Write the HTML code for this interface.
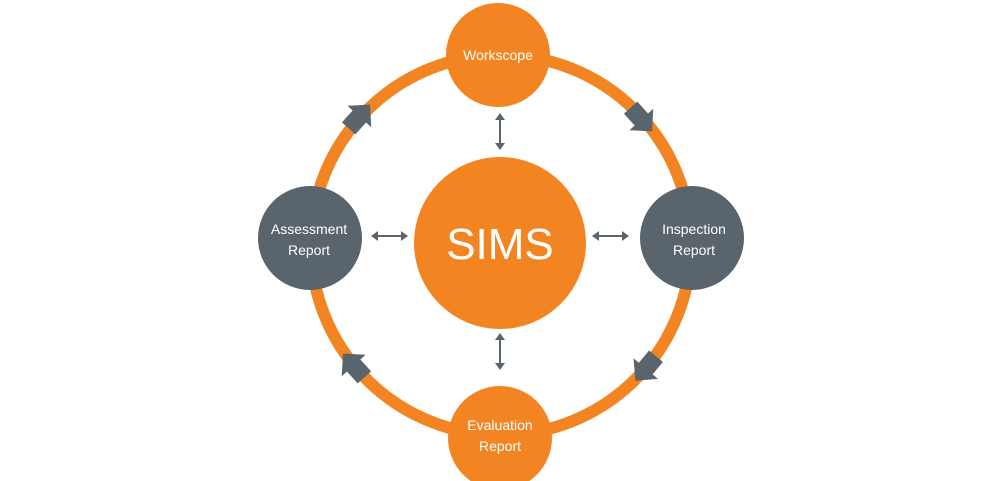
<!DOCTYPE html>
<html><head><meta charset="utf-8"><style>
html,body{margin:0;padding:0;background:#fff;}
svg{display:block;}
text{font-family:"Liberation Sans",sans-serif;fill:#fff;}
</style></head><body>
<svg width="1000" height="481" viewBox="0 0 1000 481">
<defs>
<g id="arr"><polygon points="-14,-9 2,-9 2,-16 18,0 2,16 2,9 -14,9" fill="#5a646d"/></g>
<g id="dv"><line x1="0" y1="4" x2="0" y2="33" stroke="#5a646d" stroke-width="2"/><polygon points="0,0 -5,7 5,7" fill="#5a646d"/><polygon points="0,37 -5,30 5,30" fill="#5a646d"/></g>
</defs>
<circle cx="501" cy="245" r="190" fill="none" stroke="#f28421" stroke-width="12"/>
<g transform="translate(640,118) rotate(48)"><use href="#arr"/></g>
<g transform="translate(647,367) rotate(130)"><use href="#arr"/></g>
<g transform="translate(355,367) rotate(228)"><use href="#arr"/></g>
<g transform="translate(358,118) rotate(312)"><use href="#arr"/></g>
<circle cx="498" cy="55" r="52" fill="#f28421"/>
<circle cx="692" cy="238" r="52" fill="#5a646d"/>
<circle cx="500" cy="438" r="52" fill="#f28421"/>
<circle cx="310" cy="238" r="52" fill="#5a646d"/>
<circle cx="500" cy="243" r="86" fill="#f28421"/>
<text x="500" y="259" font-size="44" text-anchor="middle">SIMS</text>
<text x="498" y="60" font-size="14" text-anchor="middle">Workscope</text>
<text x="694" y="234" font-size="14" text-anchor="middle">Inspection</text>
<text x="694" y="255" font-size="14" text-anchor="middle">Report</text>
<text x="500" y="430" font-size="14" text-anchor="middle">Evaluation</text>
<text x="500" y="451" font-size="14" text-anchor="middle">Report</text>
<text x="309" y="234" font-size="14" text-anchor="middle">Assessment</text>
<text x="309" y="255" font-size="14" text-anchor="middle">Report</text>
<g transform="translate(500,113)"><use href="#dv"/></g>
<g transform="translate(500,333)"><use href="#dv"/></g>
<g transform="translate(371,236) rotate(-90)"><use href="#dv"/></g>
<g transform="translate(592,236) rotate(-90)"><use href="#dv"/></g>
</svg>
</body></html>
